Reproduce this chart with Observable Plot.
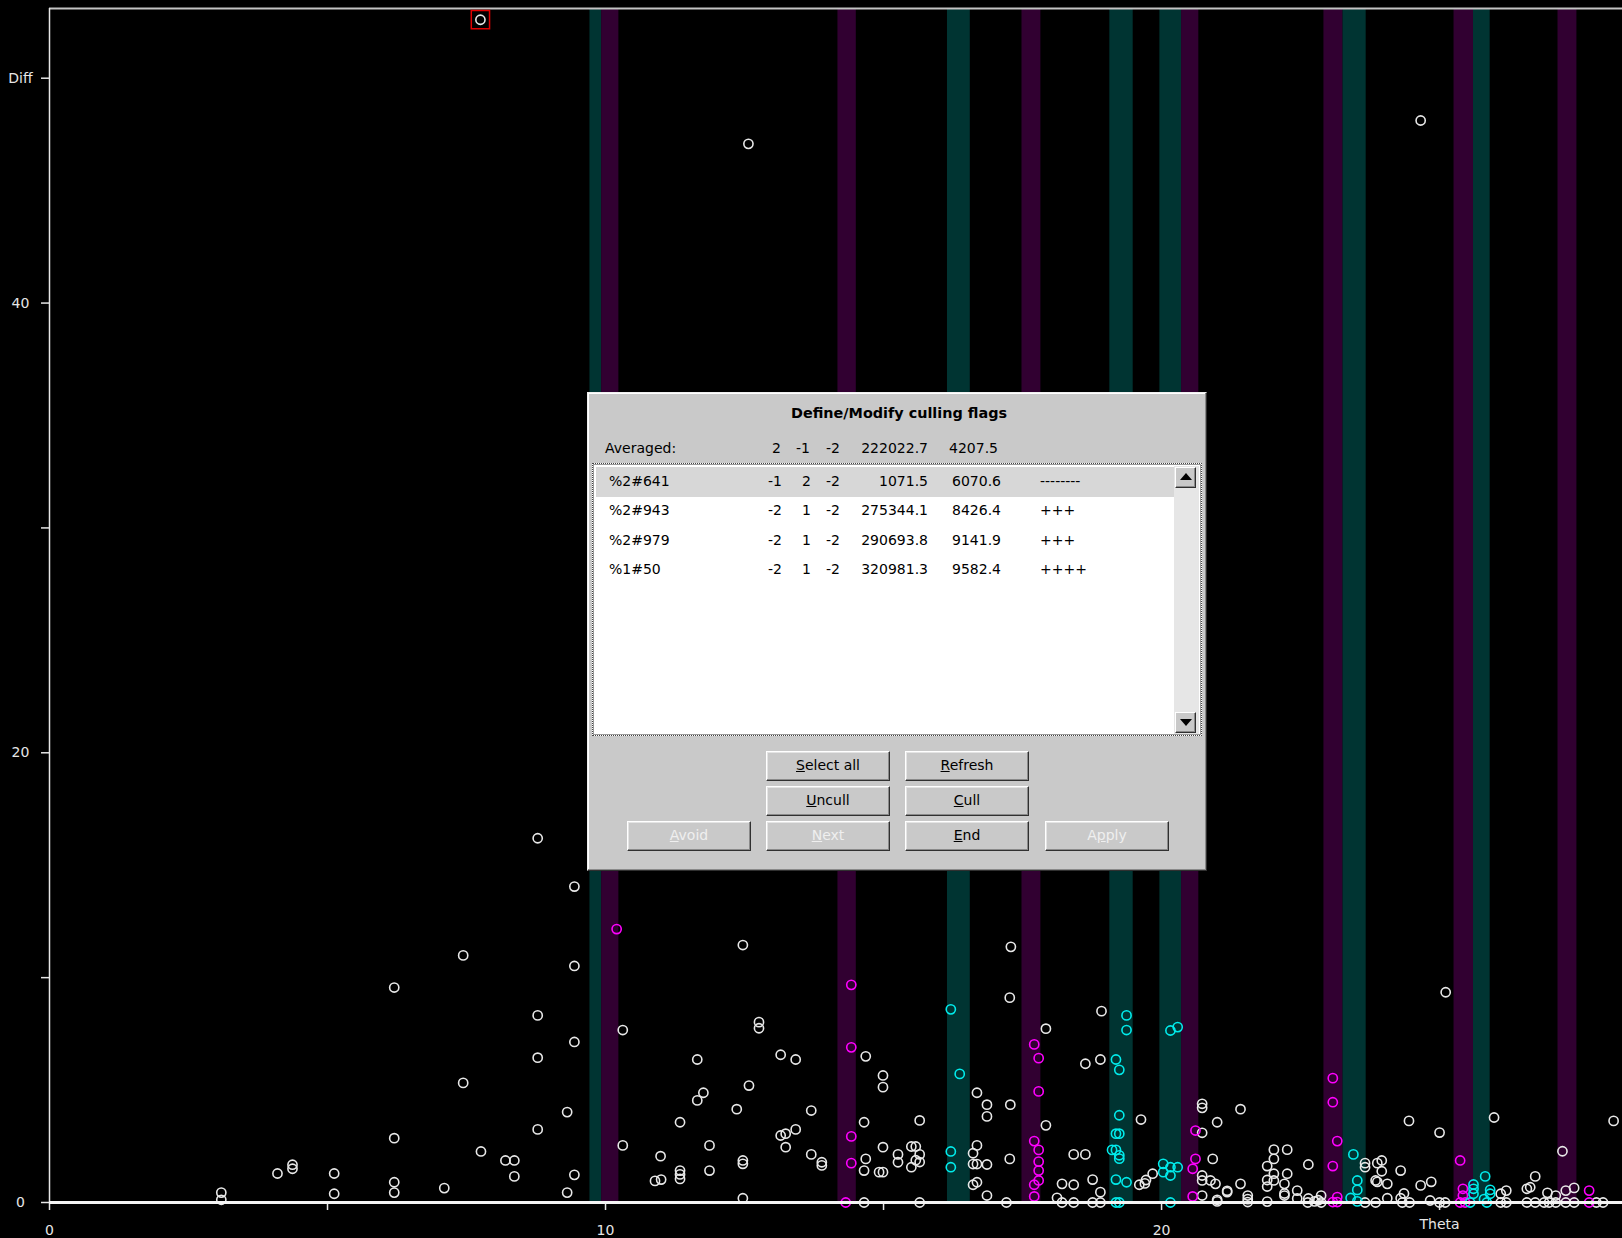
<!DOCTYPE html>
<html>
<head>
<meta charset="utf-8">
<script src="https://cdn.jsdelivr.net/npm/d3@7"></script>
<script src="https://cdn.jsdelivr.net/npm/@observablehq/plot@0.6"></script>
<style>
  html, body { margin: 0; padding: 0; background: #000; }
  #wrap { position: relative; width: 1622px; height: 1238px; overflow: hidden; background: #000; }
  #wrap svg { display: block; }
  .dlg {
    position: absolute; left: 587px; top: 392px; width: 620px; height: 479px;
    box-sizing: border-box; background: #c9c9c9;
    border: 1px solid; border-color: #efefef #303030 #303030 #efefef;
    box-shadow: inset -1px -1px #8a8a8a, inset 1px 1px #ffffff;
    font-family: "DejaVu Sans", sans-serif; font-size: 14px; color: #000;
  }
  .dlg .t { position: absolute; white-space: nowrap; line-height: 18px; height: 18px; }
  .dlg .title { left: 0; width: 622px; text-align: center; top: 11px; font-weight: bold; font-size: 14.4px; }
  .list {
    position: absolute; left: 4px; top: 70px; width: 610px; height: 273px;
    box-sizing: border-box; background: #fff;
    border: 1px dotted #444; outline: 1px solid #9a9a9a; outline-offset: -2px;
  }
  .sel { position: absolute; left: 8px; top: 74px; width: 579px; height: 30px; background: #d7d7d7; }
  .track { position: absolute; left: 586px; top: 73px; width: 25px; height: 268px; background: #e6e6e6; }
  .arrow {
    position: absolute; left: 587px; width: 21px; height: 21px; box-sizing: border-box;
    background: #c9c9c9; border: 1px solid; border-color: #fff #303030 #303030 #fff;
    box-shadow: inset -1px -1px #8a8a8a;
  }
  .arrow::after { content: ""; position: absolute; left: 4px; width: 0; height: 0;
    border-left: 6px solid transparent; border-right: 6px solid transparent; }
  .arrow.up::after { top: 5px; border-bottom: 7px solid #000; }
  .arrow.down::after { top: 6px; border-top: 7px solid #000; }
  .btn {
    position: absolute; width: 124px; height: 30px; box-sizing: border-box;
    background: #c9c9c9; border: 1px solid; border-color: #ffffff #303030 #303030 #ffffff;
    box-shadow: inset -1px -1px #8a8a8a, inset 1px 1px #e4e4e4;
    text-align: center; line-height: 27px; font-size: 14px; color: #000;
  }
  .btn.off { color: #efefef; }
</style>
</head>
<body>
<div id="wrap"></div>
<script>
// Averaged profile-fit differences against two-theta, with culling windows shaded.

// axis ticks and their labels
const xTicks = [0, 5, 10, 15, 20, 25];
const xTickLabels = [[0, "0"], [10, "10"], [20, "20"]];
const xAxisTitle = [[25, "Theta"]];
const yTicks = [0, 10, 20, 30, 40, 50];
const yTickLabels = [[0, "0"], [20, "20"], [40, "40"], [50, "Diff"]];

// shaded theta windows [from, to]
const tealBands = [[9.72, 9.93], [16.15, 16.56], [19.07, 19.49], [19.97, 20.36], [23.26, 23.68], [25.61, 25.91]];
const purpleBands = [[9.93, 10.24], [14.18, 14.51], [17.49, 17.83], [20.36, 20.67], [22.92, 23.26], [25.26, 25.61], [27.13, 27.47]];

// reflections outside any window [theta, diff]
const plainPoints = [
  [3.09, 0.44], [3.09, 0.12], [4.10, 1.29], [4.37, 1.50], [4.37, 1.68], [5.12, 1.29], [5.12, 0.39],
  [6.20, 9.56], [6.20, 2.86], [6.20, 0.90], [6.20, 0.44], [7.10, 0.64], [7.44, 10.99], [7.44, 5.32],
  [7.76, 2.27], [8.20, 1.87], [8.36, 1.87], [8.36, 1.16], [8.78, 16.2], [8.78, 8.32], [8.78, 6.44],
  [8.78, 3.25], [9.31, 4.02], [9.31, 0.44], [9.44, 14.05], [9.44, 10.52], [9.44, 7.14], [9.44, 1.23],
  [7.75, 52.6], [12.57, 47.08], [24.66, 48.12],
  [10.31, 7.67], [10.31, 2.54], [12.47, 11.45], [12.76, 8.02], [12.76, 7.75], [11.65, 6.36], [11.76, 4.88],
  [11.65, 4.54], [12.58, 5.20], [13.15, 6.57], [13.42, 6.36], [12.36, 4.15], [13.70, 4.09], [11.34, 3.57],
  [13.15, 2.98], [13.24, 3.06], [13.42, 3.25], [13.24, 2.46], [11.87, 2.54], [10.99, 2.06], [10.89, 0.96],
  [11.00, 1.02], [11.34, 1.42], [11.34, 1.25], [11.34, 1.05], [11.87, 1.42], [12.47, 1.87], [12.47, 1.72],
  [12.47, 0.19], [13.70, 2.14], [13.89, 1.79], [13.89, 1.65], [14.68, 6.50], [14.99, 5.65], [14.99, 5.13],
  [14.65, 3.57], [14.99, 2.46], [14.68, 1.94], [14.65, 1.42], [14.92, 1.35], [14.99, 1.35], [14.65, 0],
  [15.65, 3.65], [15.65, 0], [15.26, 2.14], [15.26, 1.79], [15.50, 2.49], [15.58, 2.49], [15.65, 2.14],
  [15.58, 1.88], [15.65, 1.80], [15.50, 1.57], [16.68, 4.88], [16.86, 4.35], [16.86, 3.83], [16.68, 2.54],
  [16.61, 2.19], [16.61, 1.71], [16.68, 1.71], [16.86, 1.69], [16.61, 0.79], [16.68, 0.90], [16.86, 0.31],
  [17.29, 11.37], [17.27, 9.11], [18.92, 8.51], [17.92, 7.73], [18.63, 6.17], [18.90, 6.36], [17.28, 4.35],
  [17.92, 3.43], [17.27, 1.94], [18.42, 2.14], [18.63, 2.14], [18.21, 0.83], [18.42, 0.79], [18.76, 1.02],
  [18.90, 0.46], [18.12, 0.21], [17.21, 0], [18.21, 0], [18.42, 0], [18.76, 0], [18.90, 0],
  [19.63, 3.69], [19.60, 0.79], [19.70, 0.85], [19.72, 1.00], [19.84, 1.28],
  [20.73, 4.39], [20.73, 4.21], [20.73, 3.10], [21.00, 3.57], [21.42, 4.15], [20.92, 1.94], [20.73, 1.20],
  [20.73, 0.98], [20.88, 0.98], [20.97, 0.83], [21.18, 0.46], [21.18, 0.52], [21.42, 0.83], [20.73, 0.31],
  [21.00, 0.05], [21.00, 0.12], [21.55, 0.31], [21.55, 0.15], [21.55, 0.02], [22.02, 2.35], [22.26, 2.35],
  [22.02, 1.94], [21.90, 1.62], [22.02, 1.28], [22.26, 1.28], [21.90, 1.00], [22.02, 0.98], [21.90, 0.71],
  [22.21, 0.83], [22.21, 0.40], [22.21, 0.31], [22.44, 0.53], [22.64, 1.69], [21.90, 0.04], [22.44, 0.18],
  [22.64, 0.18], [22.75, 0.05], [22.82, 0.10],
  [25.11, 9.35], [24.45, 3.63], [25.98, 3.78], [25.00, 3.11], [28.13, 3.63], [27.21, 2.28], [23.66, 1.75],
  [23.66, 1.57], [23.88, 1.75], [23.96, 1.87], [23.96, 1.39], [24.30, 1.42], [23.85, 0.98], [23.88, 0.92],
  [24.06, 0.83], [24.66, 0.76], [24.85, 0.92], [22.87, 0.31], [22.63, 0], [22.87, 0], [23.66, 0], [23.85, 0],
  [24.06, 0.19], [24.30, 0.19], [24.36, 0.40], [24.33, 0], [24.46, 0], [24.83, 0.09], [25.00, 0], [25.10, 0],
  [26.10, 0.39], [26.20, 0.53], [26.10, 0], [26.20, 0], [26.57, 0.61], [26.63, 0.68], [26.72, 1.16],
  [26.94, 0.43], [27.09, 0.31], [26.57, 0], [26.72, 0], [26.88, 0], [26.97, 0], [27.09, 0], [27.27, 0],
  [27.42, 0], [27.27, 0.53], [27.42, 0.65], [27.82, 0], [27.94, 0]
];

// reflections inside the purple windows
const magentaPoints = [
  [10.20, 12.16], [14.42, 9.68], [14.42, 6.90], [14.42, 2.94], [14.42, 1.75], [14.32, 0],
  [17.71, 7.03], [17.79, 6.42], [17.79, 4.94], [17.71, 2.73], [17.79, 2.34], [17.79, 1.82], [17.79, 1.42],
  [17.79, 0.98], [17.71, 0.79], [17.71, 0.27], [20.61, 3.20], [20.61, 1.94], [20.56, 1.50], [20.56, 0.27],
  [23.08, 5.53], [23.08, 4.46], [23.16, 2.73], [23.08, 1.62], [23.16, 0.24], [23.08, 0.02], [23.16, 0.02],
  [25.37, 1.87], [25.42, 0.61], [25.42, 0.31], [25.37, 0], [25.46, 0], [27.69, 0.53], [27.69, 0]
];

// reflections inside the teal windows
const cyanPoints = [
  [16.21, 8.59], [16.37, 5.72], [16.21, 2.27], [16.21, 1.57], [19.37, 8.32], [19.37, 7.67], [19.18, 6.36],
  [19.24, 5.90], [19.24, 3.88], [19.18, 3.06], [19.24, 3.06], [19.11, 2.34], [19.18, 2.34], [19.24, 2.10],
  [19.24, 1.95], [19.18, 1.02], [19.37, 0.90], [19.18, 0], [19.24, 0], [20.16, 7.65], [20.29, 7.80],
  [20.03, 1.72], [20.16, 1.57], [20.29, 1.57], [20.03, 1.35], [20.16, 1.20], [20.16, 0],
  [23.45, 2.14], [23.52, 0.98], [23.52, 0.56], [23.40, 0.20], [23.52, 0.05], [25.82, 1.16], [25.61, 0.80],
  [25.61, 0.61], [25.61, 0.39], [25.91, 0.56], [25.91, 0.39], [25.55, 0], [25.85, 0], [25.80, 0.15]
];

// currently picked reflection
const pickedPoint = [[7.75, 52.6]];

const xMax = 28.29;
const yMax = 53.1;

const chart = Plot.plot({
  width: 1622,
  height: 1238,
  marginLeft: 49,
  marginRight: 0,
  marginTop: 8,
  marginBottom: 36,
  style: { background: "#000", color: "#e6e6e6", fontFamily: "DejaVu Sans, sans-serif", fontSize: "14px" },
  x: { domain: [0, xMax], axis: null },
  y: { domain: [0, yMax], axis: null },
  marks: [
    Plot.rect(tealBands, { x1: d => d[0], x2: d => d[1], fill: "#003432" }),
    Plot.rect(purpleBands, { x1: d => d[0], x2: d => d[1], fill: "#310031" }),
    Plot.ruleY([yMax], { stroke: "#c4c4c4", strokeWidth: 2 }),
    Plot.ruleX([0], { stroke: "#e6e6e6", strokeWidth: 1.5 }),
    Plot.axisY({ ticks: yTicks, tickSize: 8, tickFormat: () => "", stroke: "#e6e6e6", strokeWidth: 1.5 }),
    Plot.axisX({ ticks: xTicks, tickSize: 8, tickFormat: () => "", stroke: "#e6e6e6", strokeWidth: 1.5 }),
    Plot.text(xTickLabels, { x: d => d[0], text: d => d[1], frameAnchor: "bottom", textAnchor: "middle", dy: 32, fill: "#e6e6e6" }),
    Plot.text(xAxisTitle, { x: d => d[0], text: d => d[1], frameAnchor: "bottom", textAnchor: "middle", dy: 26, fill: "#e6e6e6" }),
    Plot.text(yTickLabels, { y: d => d[0], text: d => d[1], frameAnchor: "left", textAnchor: "middle", dx: -29, fill: "#e6e6e6" }),
    Plot.dot(plainPoints, { x: d => d[0], y: d => d[1], r: 4.6, stroke: "#e8e8e8", strokeWidth: 1.6 }),
    Plot.dot(magentaPoints, { x: d => d[0], y: d => d[1], r: 4.6, stroke: "#ff00ff", strokeWidth: 1.6 }),
    Plot.dot(cyanPoints, { x: d => d[0], y: d => d[1], r: 4.6, stroke: "#00ecec", strokeWidth: 1.6 }),
    Plot.ruleY([0], { stroke: "#f4f4f4", strokeWidth: 3 }),
    Plot.dot(pickedPoint, { x: d => d[0], y: d => d[1], symbol: "square", r: 10.3, stroke: "#e00000", strokeWidth: 1.5 })
  ]
});

const wrap = document.getElementById("wrap");
wrap.appendChild(chart);

// culling dialog
const header = { label: "Averaged:", flags: ["2", "-1", "-2"], sum: "222022.7", sigma: "4207.5" };
const rowNames = ["%2#641", "%2#943", "%2#979", "%1#50"];
const rowFlags = [["-1", "2", "-2"], ["-2", "1", "-2"], ["-2", "1", "-2"], ["-2", "1", "-2"]];
const rowSums = ["1071.5", "275344.1", "290693.8", "320981.3"];
const rowSigmas = ["6070.6", "8426.4", "9141.9", "9582.4"];
const rowMarks = ["--------", "+++", "+++", "++++"];
const buttons = [
  { html: "<u>S</u>elect all", left: 178, top: 358, off: false },
  { html: "<u>R</u>efresh", left: 317, top: 358, off: false },
  { html: "<u>U</u>ncull", left: 178, top: 393, off: false },
  { html: "<u>C</u>ull", left: 317, top: 393, off: false },
  { html: "<u>A</u>void", left: 39, top: 428, off: true },
  { html: "<u>N</u>ext", left: 178, top: 428, off: true },
  { html: "<u>E</u>nd", left: 317, top: 428, off: false },
  { html: "A<u>p</u>ply", left: 457, top: 428, off: true }
];

const dlg = document.createElement("div");
dlg.className = "dlg";
wrap.appendChild(dlg);

// positions below are page x coordinates; the dialog's inner box spans 588..1206
const innerLeft = 588, innerRight = 1206, innerTop = 393;

function put(text, opts) {
  const el = document.createElement("div");
  el.className = "t" + (opts.cls ? " " + opts.cls : "");
  el.textContent = text;
  if (opts.right != null) { el.style.right = (innerRight - opts.right) + "px"; el.style.textAlign = "right"; }
  else if (opts.left != null) el.style.left = (opts.left - innerLeft) + "px";
  if (opts.cy != null) el.style.top = (opts.cy - 9 - innerTop) + "px";
  dlg.appendChild(el);
  return el;
}

put("Define/Modify culling flags", { cls: "title" });

// averaged line
const headerY = 448;
put(header.label, { left: 605, cy: headerY });
put(header.flags[0], { right: 781, cy: headerY });
put(header.flags[1], { right: 810, cy: headerY });
put(header.flags[2], { right: 840, cy: headerY });
put(header.sum, { right: 928, cy: headerY });
put(header.sigma, { right: 998, cy: headerY });

const list = document.createElement("div"); list.className = "list"; dlg.appendChild(list);
const sel = document.createElement("div"); sel.className = "sel"; dlg.appendChild(sel);
const track = document.createElement("div"); track.className = "track"; dlg.appendChild(track);
const up = document.createElement("div"); up.className = "arrow up"; up.style.top = "74px"; dlg.appendChild(up);
const down = document.createElement("div"); down.className = "arrow down"; down.style.top = "319px"; dlg.appendChild(down);

rowNames.forEach((name, i) => {
  const cy = 481 + i * 29.4;
  put(name, { left: 609, cy });
  put(rowFlags[i][0], { right: 782, cy });
  put(rowFlags[i][1], { right: 811, cy });
  put(rowFlags[i][2], { right: 840, cy });
  put(rowSums[i], { right: 928, cy });
  put(rowSigmas[i], { right: 1001, cy });
  put(rowMarks[i], { left: 1040, cy });
});

buttons.forEach(b => {
  const el = document.createElement("div");
  el.className = "btn" + (b.off ? " off" : "");
  el.innerHTML = b.html;
  el.style.left = b.left + "px";
  el.style.top = b.top + "px";
  dlg.appendChild(el);
});
</script>
</body>
</html>
